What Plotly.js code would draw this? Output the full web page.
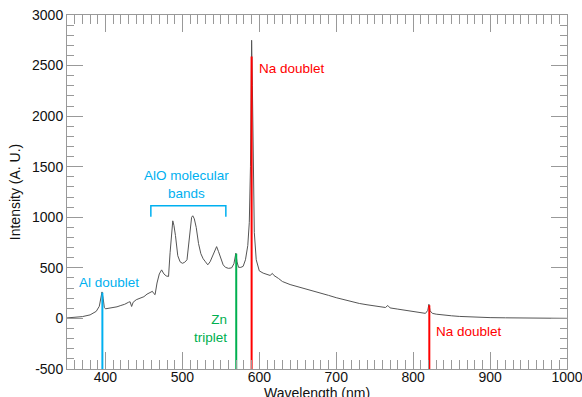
<!DOCTYPE html>
<html>
<head>
<meta charset="utf-8">
<script src="https://cdn.plot.ly/plotly-3.0.1.min.js"></script>
<style>html,body{margin:0;padding:0;background:#fff;}#chart{width:582px;height:397px;}</style>
</head>
<body>
<div id="chart"></div>
<script>
// Spectrum (wavelength in nm, intensity in A.U.)
const wavelength = [350,360,370,380,388,392,394,395.5,397,398.5,400,405,410,415,420,425,430,432,434,436,440,445,450,454,458,461,463,464.5,467,470,473,476,479,482,484,486,487.5,489,491,494,497,500,503,506,508,510,512,513.5,515.5,518,521,524,527,530,533,536,539,542,544.5,547,550,553,556,560,564,567,569.5,571,573,576,579,582,585,587,588.5,589.5,590,591,592,593.5,596,600,605,610,614,617,619,625,630,640,650,660,670,680,690,700,710,720,730,740,750,757,764,767,770,780,790,800,810,816,819,820.5,822,825,830,840,850,860,870,880,890,900,920,940,960,980,1000];
const intensity  = [5,10,18,35,70,120,200,262,200,110,95,100,106,115,128,140,160,165,118,160,185,198,215,240,255,268,245,235,350,440,480,440,420,415,650,900,965,920,820,620,560,545,555,580,720,900,1000,1015,985,900,740,640,590,560,530,560,620,680,710,660,590,530,505,495,500,540,645,560,505,505,515,580,720,950,1500,2300,2750,2300,1400,850,580,470,448,432,425,445,425,395,365,335,315,295,270,248,228,205,185,165,148,135,122,115,108,128,104,92,80,68,58,50,80,140,75,50,42,32,26,20,16,12,10,8,6,5,3,2,1];

// Emission-line markers
const alLineX = [396, 396], alLineY = [-500, 255];
const znLineX = [570, 570], znLineY = [-500, 640];
const naLineX = [590, 590], naLineY = [-500, 2590];
const na2LineX = [821, 821], na2LineY = [-500, 130];
// AlO band bracket
const bracketX = [459, 459, 556.5, 556.5], bracketY = [1005, 1115, 1115, 1005];

const xTickVals = [400,500,600,700,800,900,1000];
const yTickVals = [-500,0,500,1000,1500,2000,2500,3000];
const yTickText = ['-500','0','500','1000','1500','2000','2500','3000'];

const BLUE = '#00B0F0', GREEN = '#00B050', RED = '#FF0000';
const FONT = 'Liberation Sans, Arial, sans-serif';

const traces = [
  {x: wavelength, y: intensity, mode: 'lines', line: {color: '#555', width: 1}, hoverinfo: 'skip'},
  {x: alLineX, y: alLineY, mode: 'lines', line: {color: BLUE, width: 2}, hoverinfo: 'skip'},
  {x: znLineX, y: znLineY, mode: 'lines', line: {color: GREEN, width: 2}, hoverinfo: 'skip'},
  {x: naLineX, y: naLineY, mode: 'lines', line: {color: RED, width: 2}, hoverinfo: 'skip'},
  {x: na2LineX, y: na2LineY, mode: 'lines', line: {color: RED, width: 2}, hoverinfo: 'skip'},
  {x: bracketX, y: bracketY, mode: 'lines', line: {color: BLUE, width: 1.5}, hoverinfo: 'skip'}
];

const axisCommon = {
  showgrid: false, zeroline: false, showline: true, linecolor: '#999', linewidth: 1,
  ticks: 'inside', mirror: 'allticks', tickcolor: '#999', tickwidth: 1,
  ticklabeloverflow: 'allow',
  tickfont: {family: FONT, size: 14, color: '#111'}
};

const layout = {
  width: 582, height: 397,
  margin: {l: 67, r: 15, t: 15, b: 28},
  paper_bgcolor: '#fff', plot_bgcolor: '#fff',
  showlegend: false,
  font: {family: FONT, size: 14, color: '#111'},
  xaxis: Object.assign({}, axisCommon, {
    range: [350, 1000], tickvals: xTickVals, ticklen: 17,
    ticklabelstandoff: -5,
    minor: {dtick: 10, tick0: 350, ticks: 'inside', ticklen: 9, tickcolor: '#999', tickwidth: 1},
    automargin: false
  }),
  yaxis: Object.assign({}, axisCommon, {
    range: [-500, 3000], tickvals: yTickVals, ticktext: yTickText, ticklen: 16,
    minor: {dtick: 100, tick0: 0, ticks: 'inside', ticklen: 7, tickcolor: '#999', tickwidth: 1},
    title: {text: 'Intensity (A. U.)', font: {family: FONT, size: 14, color: '#111'}, standoff: 8},
    automargin: false
  }),
  annotations: [
    {xref: 'paper', yref: 'paper', x: 0.5, y: -0.068, text: 'Wavelength (nm)', showarrow: false, xanchor: 'center', yanchor: 'middle', font: {family: FONT, size: 14, color: '#111'}},
    {x: 363, y: 360, text: 'Al doublet', showarrow: false, xanchor: 'left', yanchor: 'middle', font: {family: FONT, size: 13.5, color: BLUE}},
    {x: 504.7, y: 1327, text: 'AlO molecular<br>bands', showarrow: false, xanchor: 'center', yanchor: 'middle', font: {family: FONT, size: 13.5, color: BLUE}},
    {x: 561, y: -95, text: 'Zn<br>triplet', showarrow: false, xanchor: 'right', yanchor: 'middle', align: 'right', font: {family: FONT, size: 13.5, color: GREEN}},
    {x: 597, y: 2475, text: 'Na doublet', showarrow: false, xanchor: 'left', yanchor: 'middle', font: {family: FONT, size: 13.5, color: RED}},
    {x: 827.5, y: -125, text: 'Na doublet', showarrow: false, xanchor: 'left', yanchor: 'middle', font: {family: FONT, size: 13.5, color: RED}}
  ]
};

Plotly.newPlot('chart', traces, layout, {staticPlot: true, displayModeBar: false});
</script>
</body>
</html>
